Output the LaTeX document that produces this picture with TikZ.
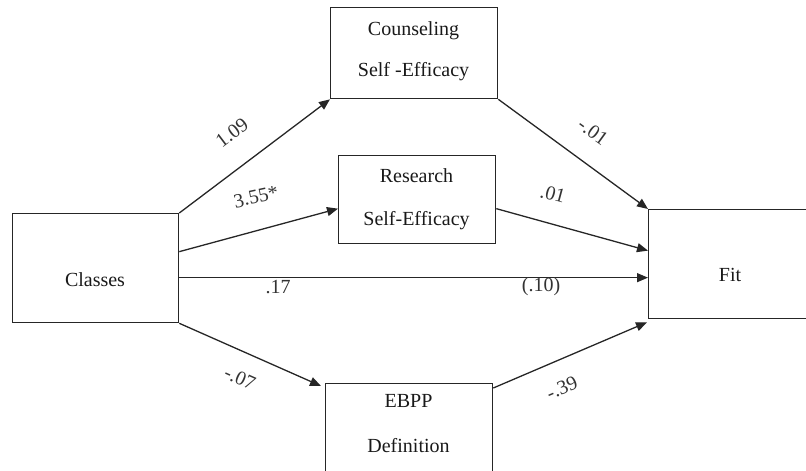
\documentclass[tikz,border=0pt]{standalone}
\usepackage{fontspec}
\setmainfont{Liberation Serif}
\usetikzlibrary{arrows.meta,calc}
\begin{document}
\begin{tikzpicture}[x=1pt,y=-1pt,
  box/.style={draw=black!85, line width=1.3pt, inner sep=0pt, anchor=north west},
  lbl/.style={font=\fontsize{20}{24}\selectfont, inner sep=0pt, anchor=base, text=black!90},
  arr/.style={line width=1.3pt, draw=black!85, -{Triangle[length=11pt,width=9pt]}},
  num/.style={font=\fontsize{20}{24}\selectfont, inner sep=0pt, text=black!80}]
\useasboundingbox (0,0) rectangle (806,471);
\clip (0,0) rectangle (806,471);
% boxes
\node[box, minimum width=166pt, minimum height=109pt] (classes) at (12,213) {};
\node[box, minimum width=167pt, minimum height=91pt] (couns) at (330,7) {};
\node[box, minimum width=157pt, minimum height=88pt] (res) at (338,155) {};
\node[box, minimum width=167pt, minimum height=110pt] (ebpp) at (325,383) {};
\node[box, minimum width=164pt, minimum height=109pt] (fit) at (648,209) {};
% texts
\node[lbl] (classesT) at (95,286) {Classes};
\node[lbl] (counsT1) at (413.5,35) {Counseling};
\node[lbl] (counsT2) at (413.5,76) {Self -Efficacy};
\node[lbl] (resT1) at (416.5,182) {Research};
\node[lbl] (resT2) at (416.5,225) {Self-Efficacy};
\node[lbl] (ebppT1) at (408.5,407) {EBPP};
\node[lbl] (ebppT2) at (408.5,452) {Definition};
\node[lbl] (fitT) at (730,281) {Fit};
% connector ends
\coordinate (ebppIn) at ([xshift=-4pt,yshift=-3pt]ebpp.north west);
\coordinate (fitLow) at ([xshift=-1pt,yshift=-3pt]fit.south west);
% arrows
\draw[arr] (classes.north east) -- (couns.south west);
\draw[arr] ([yshift=16.5pt]classes.east) -- ([yshift=-9pt]res.west);
\draw[arr] ([yshift=-9.5pt]classes.east) -- ([yshift=-13.5pt]fit.west);
\draw[arr] (classes.south east) -- (ebppIn);
\draw[arr] (couns.south east) -- (fit.north west);
\draw[arr] ([yshift=-9pt]res.east) -- ([yshift=13.5pt]fit.west);
\draw[arr] ([yshift=-5pt]ebpp.north east) -- (fitLow);
% coefficients
\node[num, rotate=37] (l1) at (232,133) {1.09};
\node[num, rotate=12] (l2) at (256,197) {3.55*};
\node[num] (l3) at (278,287) {.17};
\node[num] (l4) at (541,287) {(.10)};
\node[num, rotate=-24] (l5) at (240,378) {-.07};
\node[num, rotate=-36] (l6) at (593,132) {-.01};
\node[num, rotate=-15] (l7) at (553,194) {.01};
\node[num, rotate=23] (l8) at (562,388) {-.39};
\end{tikzpicture}
\end{document}
